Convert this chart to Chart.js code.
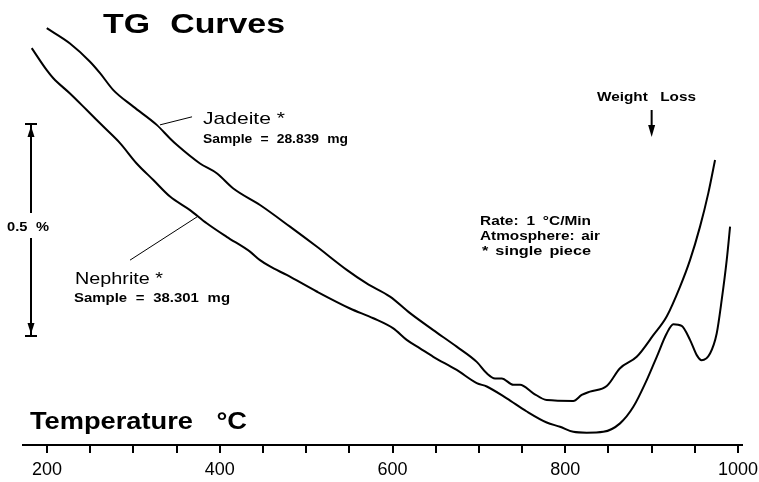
<!DOCTYPE html>
<html>
<head>
<meta charset="utf-8">
<script src="https://cdn.jsdelivr.net/npm/chart.js@4.4.1/dist/chart.umd.min.js"></script>
<style>
  html, body { margin: 0; padding: 0; background: #fff; }
  canvas { display: block; }
</style>
</head>
<body>
<canvas id="c" width="759" height="482"></canvas>
<script>
// ---- Data (temperature in °C, relative weight in %) ----
const jadeiteTemp = [199.7, 226.6, 249.8, 261.4, 276.8, 299.9, 327.0, 342.4, 350.2, 377.1, 396.5, 415.7, 446.6, 481.3, 512.2, 547.0, 570.1, 597.1, 620.3, 647.2, 674.3, 697.5, 709.1, 718.7, 726.4, 739.9, 747.6, 763.0, 778.5, 809.3, 819.0, 828.6, 848.0, 863.4, 882.7, 901.9, 917.4, 932.8, 944.4, 956.0, 965.6, 973.4];
const jadeiteWeight = [0.983, 0.947, 0.904, 0.877, 0.837, 0.798, 0.755, 0.723, 0.708, 0.664, 0.641, 0.605, 0.566, 0.515, 0.468, 0.413, 0.381, 0.350, 0.311, 0.271, 0.232, 0.196, 0.169, 0.157, 0.157, 0.142, 0.142, 0.122, 0.106, 0.104, 0.118, 0.126, 0.139, 0.181, 0.208, 0.259, 0.303, 0.373, 0.436, 0.515, 0.594, 0.672];

const nephriteTemp = [182.3, 199.7, 207.3, 226.6, 246.0, 265.2, 284.5, 303.8, 323.1, 342.4, 365.6, 384.9, 408.0, 435.0, 446.6, 458.2, 477.5, 512.2, 550.8, 577.8, 600.9, 616.4, 631.8, 647.2, 674.3, 697.5, 709.1, 732.2, 755.4, 778.5, 793.9, 809.3, 824.8, 844.0, 863.4, 878.8, 894.3, 905.9, 917.4, 925.1, 934.8, 944.4, 952.2, 957.9, 967.6, 975.3, 981.1, 986.9, 990.8];
const nephriteWeight = [0.936, 0.884, 0.865, 0.829, 0.790, 0.751, 0.712, 0.664, 0.625, 0.586, 0.554, 0.523, 0.491, 0.456, 0.436, 0.421, 0.401, 0.362, 0.322, 0.299, 0.275, 0.248, 0.228, 0.208, 0.177, 0.146, 0.138, 0.110, 0.079, 0.053, 0.043, 0.031, 0.029, 0.031, 0.051, 0.090, 0.153, 0.208, 0.263, 0.285, 0.281, 0.248, 0.212, 0.200, 0.216, 0.263, 0.342, 0.436, 0.515];

const tickValues = [200, 250, 300, 350, 400, 450, 500, 550, 600, 650, 700, 750, 800, 850, 900, 950, 1000];
const tickLabels = [200, 400, 600, 800, 1000];

// scale bar (0.5 %) in weight units
const scaleBarLow = 0.257;
const scaleBarSpan = 0.5;

// annotation leader lines in data coords [temp, weight]
const jadeiteLeader = [[330.8, 0.755], [367.9, 0.774]];
const nephriteLeader = [[296.1, 0.436], [373.7, 0.538]];

const FONT = "'Liberation Sans', Arial, Helvetica, sans-serif";

function drawText(ctx, text, x, y, font, width, wordSpacing) {
  ctx.save();
  ctx.font = font;
  try { ctx.wordSpacing = (wordSpacing || 0) + 'px'; } catch (e) {}
  ctx.textBaseline = 'alphabetic';
  ctx.textAlign = 'left';
  const w = ctx.measureText(text).width;
  ctx.translate(x, y);
  if (width && w > 0) ctx.scale(width / w, 1);
  ctx.fillStyle = '#000';
  ctx.fillText(text, 0, 0);
  ctx.restore();
}

const annotations = {
  id: 'annotations',
  afterDatasetsDraw(chart) {
    const ctx = chart.ctx;
    const xs = chart.scales.x, ys = chart.scales.y;
    ctx.save();
    ctx.strokeStyle = '#000';
    ctx.fillStyle = '#000';

    // Title
    drawText(ctx, 'TG Curves', 103, 33, 'bold 28px ' + FONT, 182, 9);
    // axis title
    drawText(ctx, 'Temperature °C', 30, 429, 'bold 24px ' + FONT, 217, 14);

    // labels
    drawText(ctx, 'Jadeite *', 203, 124, '17px ' + FONT, 82, 0);
    drawText(ctx, 'Sample = 28.839 mg', 203, 143, 'bold 13px ' + FONT, 145, 4);
    drawText(ctx, 'Nephrite *', 75, 284, '17px ' + FONT, 88, 0);
    drawText(ctx, 'Sample = 38.301 mg', 74, 302, 'bold 13px ' + FONT, 156, 4);
    drawText(ctx, 'Weight Loss', 597, 101, 'bold 13px ' + FONT, 99, 7);
    drawText(ctx, 'Rate: 1 °C/Min', 480, 225, 'bold 13px ' + FONT, 111, 3);
    drawText(ctx, 'Atmosphere: air', 480, 240, 'bold 13px ' + FONT, 120, 2);
    drawText(ctx, '* single piece', 482, 255, 'bold 13px ' + FONT, 109, 2);
    drawText(ctx, '0.5 %', 7, 231, 'bold 13px ' + FONT, 42, 4);

    // leader lines
    ctx.lineWidth = 1;
    [jadeiteLeader, nephriteLeader].forEach(l => {
      ctx.beginPath();
      ctx.moveTo(xs.getPixelForValue(l[0][0]), ys.getPixelForValue(l[0][1]));
      ctx.lineTo(xs.getPixelForValue(l[1][0]), ys.getPixelForValue(l[1][1]));
      ctx.stroke();
    });

    // scale bar
    const bx = 31;
    const yTop = ys.getPixelForValue(scaleBarLow + scaleBarSpan);
    const yBot = ys.getPixelForValue(scaleBarLow);
    ctx.lineWidth = 2;
    ctx.beginPath();
    ctx.moveTo(bx, yTop); ctx.lineTo(bx, 213);
    ctx.moveTo(bx, 238); ctx.lineTo(bx, yBot);
    ctx.moveTo(bx - 6, yTop); ctx.lineTo(bx + 6, yTop);
    ctx.moveTo(bx - 6, yBot); ctx.lineTo(bx + 6, yBot);
    ctx.stroke();
    ctx.beginPath();
    ctx.moveTo(bx, yTop + 2); ctx.lineTo(bx - 3.5, yTop + 13); ctx.lineTo(bx + 3.5, yTop + 13); ctx.closePath();
    ctx.fill();
    ctx.beginPath();
    ctx.moveTo(bx, yBot - 2); ctx.lineTo(bx - 3.5, yBot - 13); ctx.lineTo(bx + 3.5, yBot - 13); ctx.closePath();
    ctx.fill();

    // weight loss arrow
    const ax = xs.getPixelForValue(900);
    ctx.beginPath();
    ctx.moveTo(ax, 110); ctx.lineTo(ax, 128);
    ctx.stroke();
    ctx.beginPath();
    ctx.moveTo(ax, 137); ctx.lineTo(ax - 3.5, 125); ctx.lineTo(ax + 3.5, 125); ctx.closePath();
    ctx.fill();

    ctx.restore();
  }
};

function toPoints(xsArr, ysArr) { return xsArr.map((t, i) => ({ x: t, y: ysArr[i] })); }

new Chart(document.getElementById('c'), {
  type: 'line',
  data: {
    datasets: [
      { label: 'Jadeite', data: toPoints(jadeiteTemp, jadeiteWeight), borderColor: '#000', borderWidth: 2, pointRadius: 0, cubicInterpolationMode: 'monotone', fill: false },
      { label: 'Nephrite', data: toPoints(nephriteTemp, nephriteWeight), borderColor: '#000', borderWidth: 2, pointRadius: 0, cubicInterpolationMode: 'monotone', fill: false }
    ]
  },
  options: {
    responsive: false,
    animation: false,
    devicePixelRatio: 1,
    layout: { padding: { left: 23, right: 17, top: 0, bottom: 0 } },
    plugins: { legend: { display: false }, tooltip: { enabled: false }, title: { display: false } },
    scales: {
      x: {
        type: 'linear',
        min: 172.2,
        max: 1004.6,
        afterBuildTicks: s => { s.ticks = tickValues.map(v => ({ value: v })); },
        afterFit: s => { s.height = 37; s.paddingLeft = 0; s.paddingRight = 0; },
        grid: { drawOnChartArea: false, drawTicks: true, tickLength: 8, color: '#000', lineWidth: 2 },
        border: { display: true, color: '#000', width: 2 },
        ticks: {
          callback: v => tickLabels.includes(v) ? String(v) : '',
          font: { family: FONT, size: 18 },
          color: '#000',
          padding: 6,
          maxRotation: 0,
          autoSkip: false
        }
      },
      y: { display: false, min: 0, max: 1.0495 }
    }
  },
  plugins: [annotations]
});
</script>
</body>
</html>
